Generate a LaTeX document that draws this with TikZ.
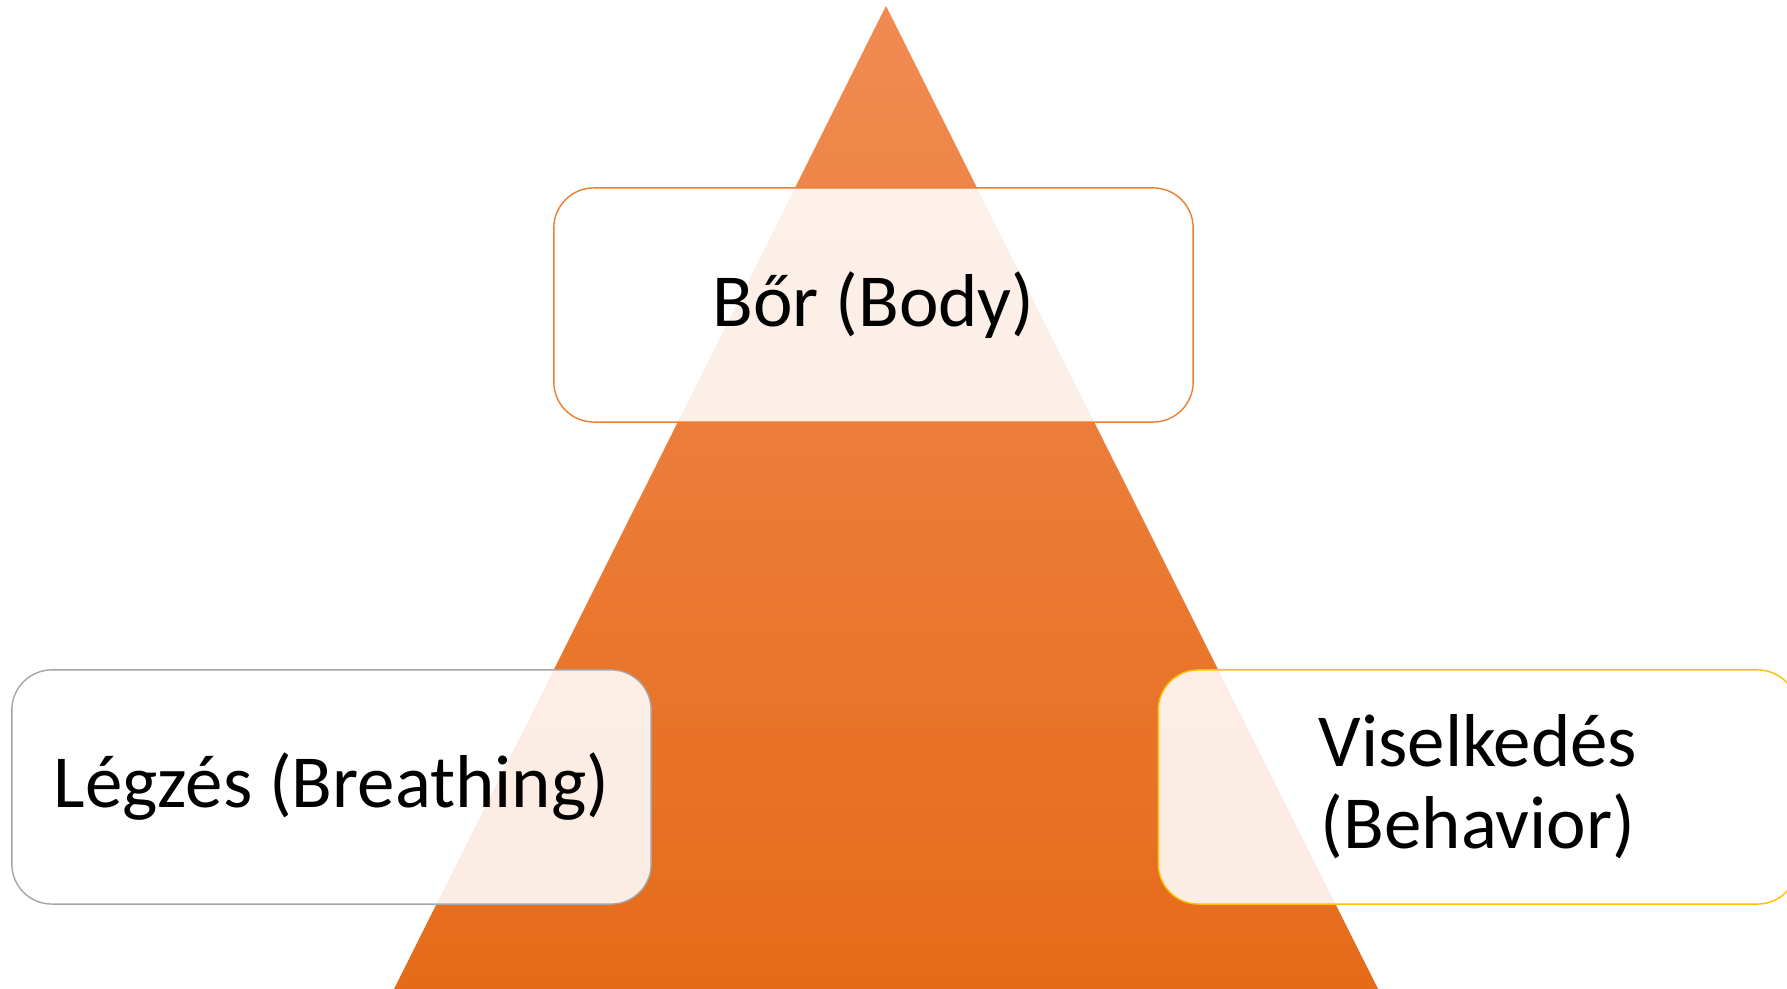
\documentclass[tikz,border=0pt]{standalone}
\usepackage{fontspec}
\setmainfont{Carlito}
\definecolor{pyrtop}{RGB}{241,139,82}
\definecolor{pyrmid}{RGB}{244,125,43}
\definecolor{pyrbot}{RGB}{229,107,25}
\definecolor{lineorange}{RGB}{237,125,49}
\definecolor{linegray}{RGB}{165,165,165}
\definecolor{linegold}{RGB}{255,192,0}
\tikzset{
  box/.style={rounded corners=0.4cm,fill=white,fill opacity=0.88,draw opacity=1,text opacity=1,
    minimum width=6.39cm,minimum height=2.34cm,align=center,
    font=\fontsize{21.3}{23.3}\selectfont}
}
\begin{document}
\begin{tikzpicture}[x=0.01cm,y=-0.01cm]
	   \useasboundingbox (0,0) rectangle (1787,989);
	   \clip (0,0) rectangle (1787,989);
	   \shade [top color=pyrtop,middle color=pyrmid,bottom color=pyrbot] (886,6) -- (1378,989) -- (394,989) -- cycle;
	   \node [box,draw=lineorange] (body) at (873.5,305) {Bőr (Body)};
	   \node [box,draw=linegray] (breath) at (331.5,787) {Légzés (Breathing)};
	   \node [box,draw=linegold] (behave) at (1478,787) {Viselkedés\\(Behavior)};
	\end{tikzpicture}
\end{document}
